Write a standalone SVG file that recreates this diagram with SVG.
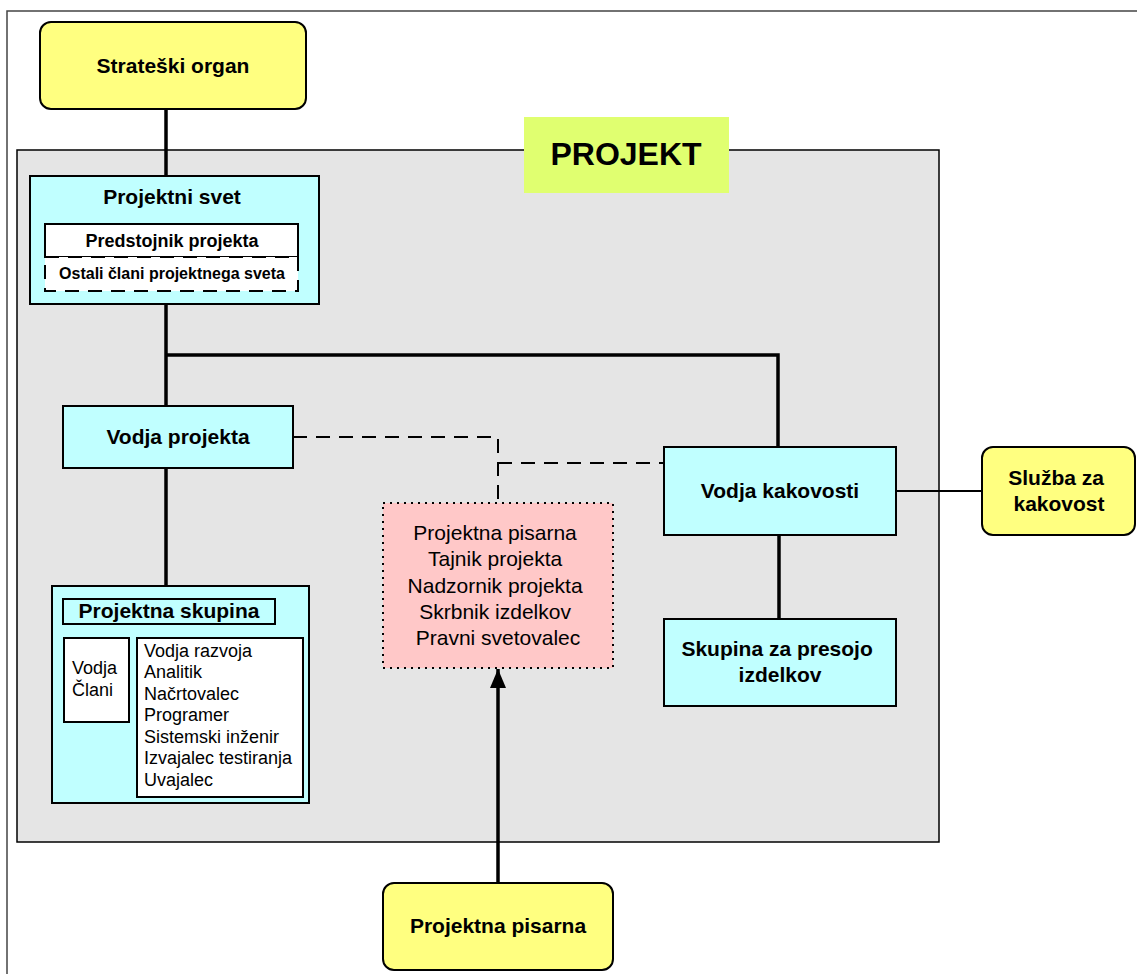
<svg xmlns="http://www.w3.org/2000/svg" width="1137" height="974" viewBox="0 0 1137 974">
  <defs>
    <marker id="arrowHead" markerWidth="20" markerHeight="16" refX="19" refY="8" orient="auto" markerUnits="userSpaceOnUse" viewBox="0 0 20 16">
      <path d="M0,0 L19,8 L0,16 Z" fill="#000"/>
    </marker>
    <style>
      .b { font-family: "Liberation Sans", Arial, sans-serif; font-weight: bold; fill: #000; }
      .r { font-family: "Liberation Sans", Arial, sans-serif; fill: #000; }
      .yellow { fill: #ffff80; stroke: #000; stroke-width: 2; }
      .cyan { fill: #c0ffff; stroke: #000; stroke-width: 2; }
      .white { fill: #fff; stroke: #000; stroke-width: 2; }
      .link { fill: none; stroke: #000; stroke-width: 3.5; }
      .thin { fill: none; stroke: #000; stroke-width: 2; }
      .dash { fill: none; stroke: #000; stroke-width: 2; stroke-dasharray: 14 9; }
    </style>
  </defs>

  <rect width="1137" height="974" fill="#fff"/>

  <!-- outer frame -->
  <path d="M7,974 L7,11 L1137,11" fill="none" stroke="#444" stroke-width="1.5"/>

  <!-- project area -->
  <g id="projekt-area">
    <rect x="17" y="150" width="922" height="692" fill="#e5e5e5" stroke="#000" stroke-width="1.5"/>
    <rect x="524" y="117" width="205" height="76" fill="#e0ff70"/>
    <text class="b" x="626" y="165" font-size="32" text-anchor="middle">PROJEKT</text>
  </g>

  <!-- connectors -->
  <g id="connectors">
    <path class="link" d="M166,109 L166,176"/>
    <path class="link" d="M166,304 L166,406"/>
    <path class="link" d="M166,355 L778,355 L778,447"/>
    <path class="link" d="M166,468 L166,586"/>
    <path class="link" d="M779,535 L779,619"/>
    <path class="thin" d="M896,491 L982,491"/>
    <path class="dash" d="M293,437 L498,437 L498,503"/>
    <path class="dash" d="M498,463 L664,463"/>
    <path class="link" d="M498,883 L498,669" marker-end="url(#arrowHead)"/>
  </g>

  <g id="strateski-organ">
    <rect class="yellow" x="40" y="22" width="266" height="87" rx="11"/>
    <text class="b" x="173" y="73" font-size="21" text-anchor="middle">Strateški organ</text>
  </g>

  <g id="projektni-svet">
    <rect class="cyan" x="30" y="176" width="289" height="128"/>
    <text class="b" x="172" y="204" font-size="21" text-anchor="middle">Projektni svet</text>
    <rect class="white" x="45" y="224" width="253" height="33"/>
    <text class="b" x="172" y="247" font-size="18" text-anchor="middle">Predstojnik projekta</text>
    <rect x="45" y="257" width="253" height="34" fill="#fff" stroke="#000" stroke-width="2" stroke-dasharray="14 9"/>
    <text class="b" x="172" y="279" font-size="16" text-anchor="middle">Ostali člani projektnega sveta</text>
  </g>

  <g id="vodja-projekta">
    <rect class="cyan" x="63" y="406" width="230" height="62"/>
    <text class="b" x="178" y="444" font-size="21" text-anchor="middle">Vodja projekta</text>
  </g>

  <g id="projektna-skupina">
    <rect class="cyan" x="52" y="586" width="257" height="217"/>
    <rect fill="none" stroke="#000" stroke-width="2" x="63" y="599" width="212" height="25"/>
    <text class="b" x="169" y="618" font-size="21" text-anchor="middle">Projektna skupina</text>
    <rect class="white" x="64" y="638" width="65" height="84"/>
    <text class="r" font-size="18">
      <tspan x="72" y="674">Vodja</tspan>
      <tspan x="72" y="696">Člani</tspan>
    </text>
    <rect class="white" x="137" y="638" width="166" height="159"/>
    <text class="r" font-size="18">
      <tspan x="144" y="657">Vodja razvoja</tspan>
      <tspan x="144" y="678">Analitik</tspan>
      <tspan x="144" y="700">Načrtovalec</tspan>
      <tspan x="144" y="721">Programer</tspan>
      <tspan x="144" y="743">Sistemski inženir</tspan>
      <tspan x="144" y="764">Izvajalec testiranja</tspan>
      <tspan x="144" y="786">Uvajalec</tspan>
    </text>
  </g>

  <g id="projektna-pisarna-vloge">
    <rect x="383" y="503" width="230" height="165" fill="#ffc8c8" stroke="#000" stroke-width="2" stroke-dasharray="2 5"/>
    <text class="r" font-size="21" text-anchor="middle">
      <tspan x="498" y="540">Projektna pisarna</tspan>
      <tspan x="498" y="566">Tajnik projekta</tspan>
      <tspan x="498" y="593">Nadzornik projekta</tspan>
      <tspan x="498" y="619">Skrbnik izdelkov</tspan>
      <tspan x="498" y="645">Pravni svetovalec</tspan>
    </text>
  </g>

  <g id="vodja-kakovosti">
    <rect class="cyan" x="664" y="447" width="232" height="88"/>
    <text class="b" x="780" y="498" font-size="21" text-anchor="middle">Vodja kakovosti</text>
  </g>

  <g id="sluzba-za-kakovost">
    <rect class="yellow" x="982" y="447" width="153" height="88" rx="11"/>
    <text class="b" font-size="21" text-anchor="middle">
      <tspan x="1059" y="485">Služba za</tspan>
      <tspan x="1059" y="511">kakovost</tspan>
    </text>
  </g>

  <g id="skupina-za-presojo">
    <rect class="cyan" x="664" y="619" width="232" height="87"/>
    <text class="b" font-size="21" text-anchor="middle">
      <tspan x="780" y="656">Skupina za presojo</tspan>
      <tspan x="780" y="682">izdelkov</tspan>
    </text>
  </g>

  <g id="projektna-pisarna">
    <rect class="yellow" x="383" y="883" width="230" height="87" rx="11"/>
    <text class="b" x="498" y="933" font-size="21" text-anchor="middle">Projektna pisarna</text>
  </g>
</svg>
